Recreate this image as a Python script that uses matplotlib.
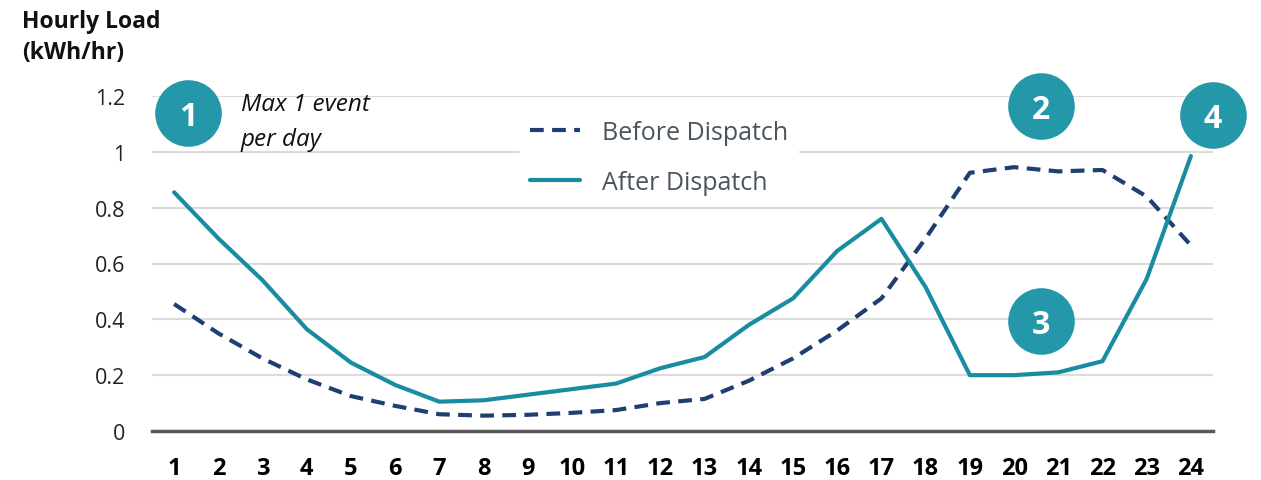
import numpy as np
import matplotlib.pyplot as plt

plt.rcParams['font.family'] = ['Open Sans', 'DejaVu Sans']

hours = list(range(1, 25))
before = [0.455, 0.35, 0.26, 0.185, 0.125, 0.09, 0.06, 0.055, 0.058, 0.065, 0.075, 0.10,
          0.115, 0.18, 0.26, 0.36, 0.475, 0.69, 0.925, 0.945, 0.93, 0.935, 0.84, 0.665]
after = [0.855, 0.69, 0.54, 0.365, 0.245, 0.165, 0.105, 0.11, 0.13, 0.15, 0.17, 0.225,
         0.265, 0.38, 0.475, 0.645, 0.76, 0.515, 0.2, 0.2, 0.21, 0.25, 0.545, 0.985]
yticks = [0, 0.2, 0.4, 0.6, 0.8, 1, 1.2]

# numbered callouts: (label, hour position, load position)
badge_labels = ['1', '2', '3', '4']
badge_x = [1.31, 20.6, 20.6, 24.5]
badge_y = [1.14, 1.165, 0.395, 1.133]

navy = '#1F3F73'
teal = '#1A8CA1'
badge_col = '#2498A9'

W, H = 1261, 481
fig = plt.figure(figsize=(W / 100, H / 100), dpi=100)
ax = fig.add_axes([152 / W, 1 - 432 / H, (1213 - 152) / W, (432 - 97) / H])

ax.plot(hours, before, color=navy, lw=3, dashes=(3.3, 2), label='Before Dispatch',
        solid_capstyle='round', zorder=3)
ax.plot(hours, after, color=teal, lw=3, label='After Dispatch',
        solid_capstyle='round', solid_joinstyle='round', zorder=3)

ax.set_xlim(0.5, 24.5)
ax.set_ylim(0, 1.2)
ax.set_xticks(hours)
ax.set_xticklabels([str(h) for h in hours], fontsize=17, fontweight='bold')
ax.set_yticks(yticks)
ax.set_yticklabels(['%g' % v for v in yticks], fontsize=15.5, color='#222222')
ax.tick_params(axis='both', length=0)
ax.tick_params(axis='y', pad=19)
ax.tick_params(axis='x', pad=18)

ax.grid(axis='y', color='#DCDCDC', lw=1.5, zorder=0)
ax.set_axisbelow(True)
for s in ['top', 'right', 'left']:
    ax.spines[s].set_visible(False)
ax.spines['bottom'].set_color('#595959')
ax.spines['bottom'].set_linewidth(2.5)
ax.spines['bottom'].set_zorder(4)

ax.scatter(badge_x, badge_y, s=2300, color=badge_col, clip_on=False, zorder=5, linewidths=0)
for lab, bx, by in zip(badge_labels, badge_x, badge_y):
    ax.text(bx, by, lab, color='white', fontsize=23, fontweight='bold',
            ha='center', va='center_baseline', zorder=6, clip_on=False)

fig.text(241 / W, 1 - 111 / H, 'Max 1 event', fontsize=17.5, style='italic',
         va='baseline', ha='left', color='#111111')
fig.text(241 / W, 1 - 146 / H, 'per day', fontsize=17.5, style='italic',
         va='baseline', ha='left', color='#111111')

fig.text(22 / W, 1 - 28 / H, 'Hourly Load', fontsize=16.5, fontweight='bold',
         va='baseline', ha='left', color='#111111')
fig.text(22 / W, 1 - 59 / H, '(kWh/hr)', fontsize=16.5, fontweight='bold',
         va='baseline', ha='left', color='#111111')

leg = ax.legend(loc='center', bbox_to_anchor=(659 / W, 1 - 158 / H),
                bbox_transform=fig.transFigure, frameon=True, facecolor='white',
                edgecolor='white', framealpha=1, fancybox=False, fontsize=18,
                handlelength=2.0, handletextpad=0.85, labelspacing=1.0, borderpad=0.4)
for t in leg.get_texts():
    t.set_color('#4A5360')

fig.savefig('out.png', dpi=100)
